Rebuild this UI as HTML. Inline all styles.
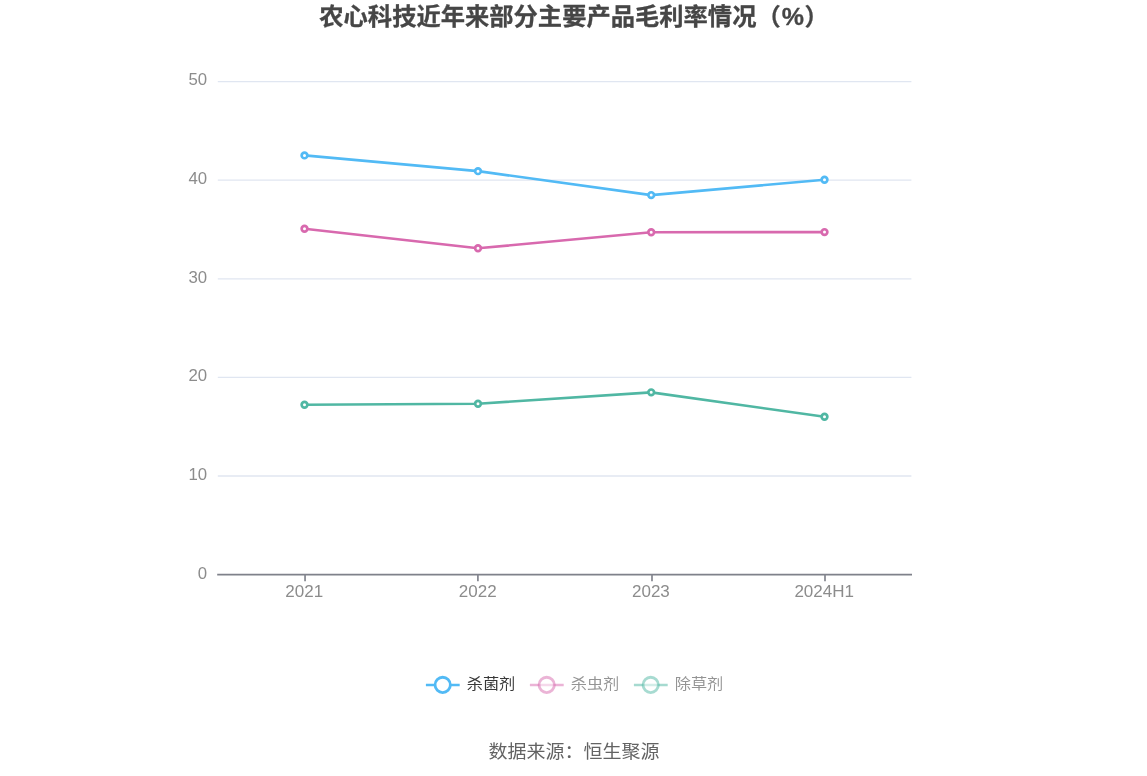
<!DOCTYPE html>
<html lang="zh-CN">
<head>
<meta charset="utf-8">
<title>农心科技近年来部分主要产品毛利率情况（%）</title>
<style>
html,body{margin:0;padding:0;background:#fff;}
body{width:1147px;height:776px;overflow:hidden;font-family:"Liberation Sans", "Noto Sans CJK SC", sans-serif;}
svg{display:block;position:absolute;left:0;top:0;}
</style>
</head>
<body>
<svg width="1147" height="776" viewBox="0 0 1147 776" font-family='"Liberation Sans", "Noto Sans CJK SC", sans-serif'>
<rect width="1147" height="776" fill="#fff"/>
<text transform="translate(0 25.4) scale(1 0.975)" x="319.3" y="0" font-size="24.3" font-weight="bold" fill="#464646" stroke="#464646" stroke-width="0.3" stroke-linejoin="round">农心科技近年来部分主要产品毛利率情况<tspan x="756.5">（</tspan><tspan x="781.7" y="-0.5" font-size="25">%</tspan><tspan x="804.4" y="0">）</tspan></text>
<line x1="217.8" x2="911.4" y1="476.00" y2="476.00" stroke="#e0e6f1" stroke-width="1.33"/>
<line x1="217.8" x2="911.4" y1="377.40" y2="377.40" stroke="#e0e6f1" stroke-width="1.33"/>
<line x1="217.8" x2="911.4" y1="278.80" y2="278.80" stroke="#e0e6f1" stroke-width="1.33"/>
<line x1="217.8" x2="911.4" y1="180.20" y2="180.20" stroke="#e0e6f1" stroke-width="1.33"/>
<line x1="217.8" x2="911.4" y1="81.60" y2="81.60" stroke="#e0e6f1" stroke-width="1.33"/>
<text x="207.2" y="579.1" font-size="16.8" fill="#8c8c8c" text-anchor="end">0</text>
<text x="207.2" y="480.1" font-size="16.8" fill="#8c8c8c" text-anchor="end">10</text>
<text x="207.2" y="381.1" font-size="16.8" fill="#8c8c8c" text-anchor="end">20</text>
<text x="207.2" y="283.0" font-size="16.8" fill="#8c8c8c" text-anchor="end">30</text>
<text x="207.2" y="184.1" font-size="16.8" fill="#8c8c8c" text-anchor="end">40</text>
<text x="207.2" y="85.1" font-size="16.8" fill="#8c8c8c" text-anchor="end">50</text>
<line x1="217.2" x2="912.0" y1="574.7" y2="574.7" stroke="#7f818a" stroke-width="1.7"/>
<line x1="305.05" x2="305.05" y1="574.6" y2="581.2" stroke="#83858e" stroke-width="1.7"/>
<text x="304.2" y="597.3" font-size="17" fill="#8c8c8c" text-anchor="middle">2021</text>
<line x1="477.9" x2="477.9" y1="574.6" y2="581.2" stroke="#83858e" stroke-width="1.7"/>
<text x="477.7" y="597.3" font-size="17" fill="#8c8c8c" text-anchor="middle">2022</text>
<line x1="652.0" x2="652.0" y1="574.6" y2="581.2" stroke="#83858e" stroke-width="1.7"/>
<text x="650.9" y="597.3" font-size="17" fill="#8c8c8c" text-anchor="middle">2023</text>
<line x1="825.0" x2="825.0" y1="574.6" y2="581.2" stroke="#83858e" stroke-width="1.7"/>
<text x="824.2" y="597.3" font-size="17" fill="#8c8c8c" text-anchor="middle">2024H1</text>
<polyline points="304.5,155.4 478.0,171.15 651.2,195.1 824.5,179.8" fill="none" stroke="#52baf5" stroke-width="2.6" stroke-linejoin="bevel"/>
<circle cx="304.5" cy="155.4" r="2.85" fill="#fff" stroke="#52baf5" stroke-width="2.7"/>
<circle cx="478.0" cy="171.15" r="2.85" fill="#fff" stroke="#52baf5" stroke-width="2.7"/>
<circle cx="651.2" cy="195.1" r="2.85" fill="#fff" stroke="#52baf5" stroke-width="2.7"/>
<circle cx="824.5" cy="179.8" r="2.85" fill="#fff" stroke="#52baf5" stroke-width="2.7"/>
<polyline points="304.5,228.7 478.0,248.3 651.2,232.2 824.5,232.1" fill="none" stroke="#d869ae" stroke-width="2.6" stroke-linejoin="bevel"/>
<circle cx="304.5" cy="228.7" r="2.85" fill="#fff" stroke="#d869ae" stroke-width="2.7"/>
<circle cx="478.0" cy="248.3" r="2.85" fill="#fff" stroke="#d869ae" stroke-width="2.7"/>
<circle cx="651.2" cy="232.2" r="2.85" fill="#fff" stroke="#d869ae" stroke-width="2.7"/>
<circle cx="824.5" cy="232.1" r="2.85" fill="#fff" stroke="#d869ae" stroke-width="2.7"/>
<polyline points="304.5,404.8 478.0,403.7 651.2,392.35 824.5,416.8" fill="none" stroke="#50b7a3" stroke-width="2.6" stroke-linejoin="bevel"/>
<circle cx="304.5" cy="404.8" r="2.85" fill="#fff" stroke="#50b7a3" stroke-width="2.7"/>
<circle cx="478.0" cy="403.7" r="2.85" fill="#fff" stroke="#50b7a3" stroke-width="2.7"/>
<circle cx="651.2" cy="392.35" r="2.85" fill="#fff" stroke="#50b7a3" stroke-width="2.7"/>
<circle cx="824.5" cy="416.8" r="2.85" fill="#fff" stroke="#50b7a3" stroke-width="2.7"/>
<line x1="425.9" x2="459.7" y1="684.9" y2="684.9" stroke="#52baf5" stroke-width="2.5" opacity="1.0"/>
<circle cx="442.7" cy="684.9" r="7.65" fill="#fff" fill-opacity="1.0" stroke="#52baf5" stroke-opacity="1.0" stroke-width="2.8"/>
<text transform="translate(466.7 689.4) scale(1 0.93)" font-size="16.2" fill="#383838" opacity="1">杀菌剂</text>
<line x1="529.9" x2="563.6999999999999" y1="684.9" y2="684.9" stroke="#d869ae" stroke-width="2.5" opacity="0.5"/>
<circle cx="546.6999999999999" cy="684.9" r="7.65" fill="#fff" fill-opacity="0.5" stroke="#d869ae" stroke-opacity="0.5" stroke-width="2.8"/>
<text transform="translate(570.7 689.4) scale(1 0.93)" font-size="16.2" fill="#2b2b2b" opacity="0.5">杀虫剂</text>
<line x1="633.9" x2="667.6999999999999" y1="684.9" y2="684.9" stroke="#50b7a3" stroke-width="2.5" opacity="0.5"/>
<circle cx="650.6999999999999" cy="684.9" r="7.65" fill="#fff" fill-opacity="0.5" stroke="#50b7a3" stroke-opacity="0.5" stroke-width="2.8"/>
<text transform="translate(674.7 689.4) scale(1 0.93)" font-size="16.2" fill="#2b2b2b" opacity="0.5">除草剂</text>
<text transform="translate(574 757.6) scale(1 0.965)" font-size="19" fill="#636363" text-anchor="middle">数据来源：恒生聚源</text>
</svg>
</body>
</html>
